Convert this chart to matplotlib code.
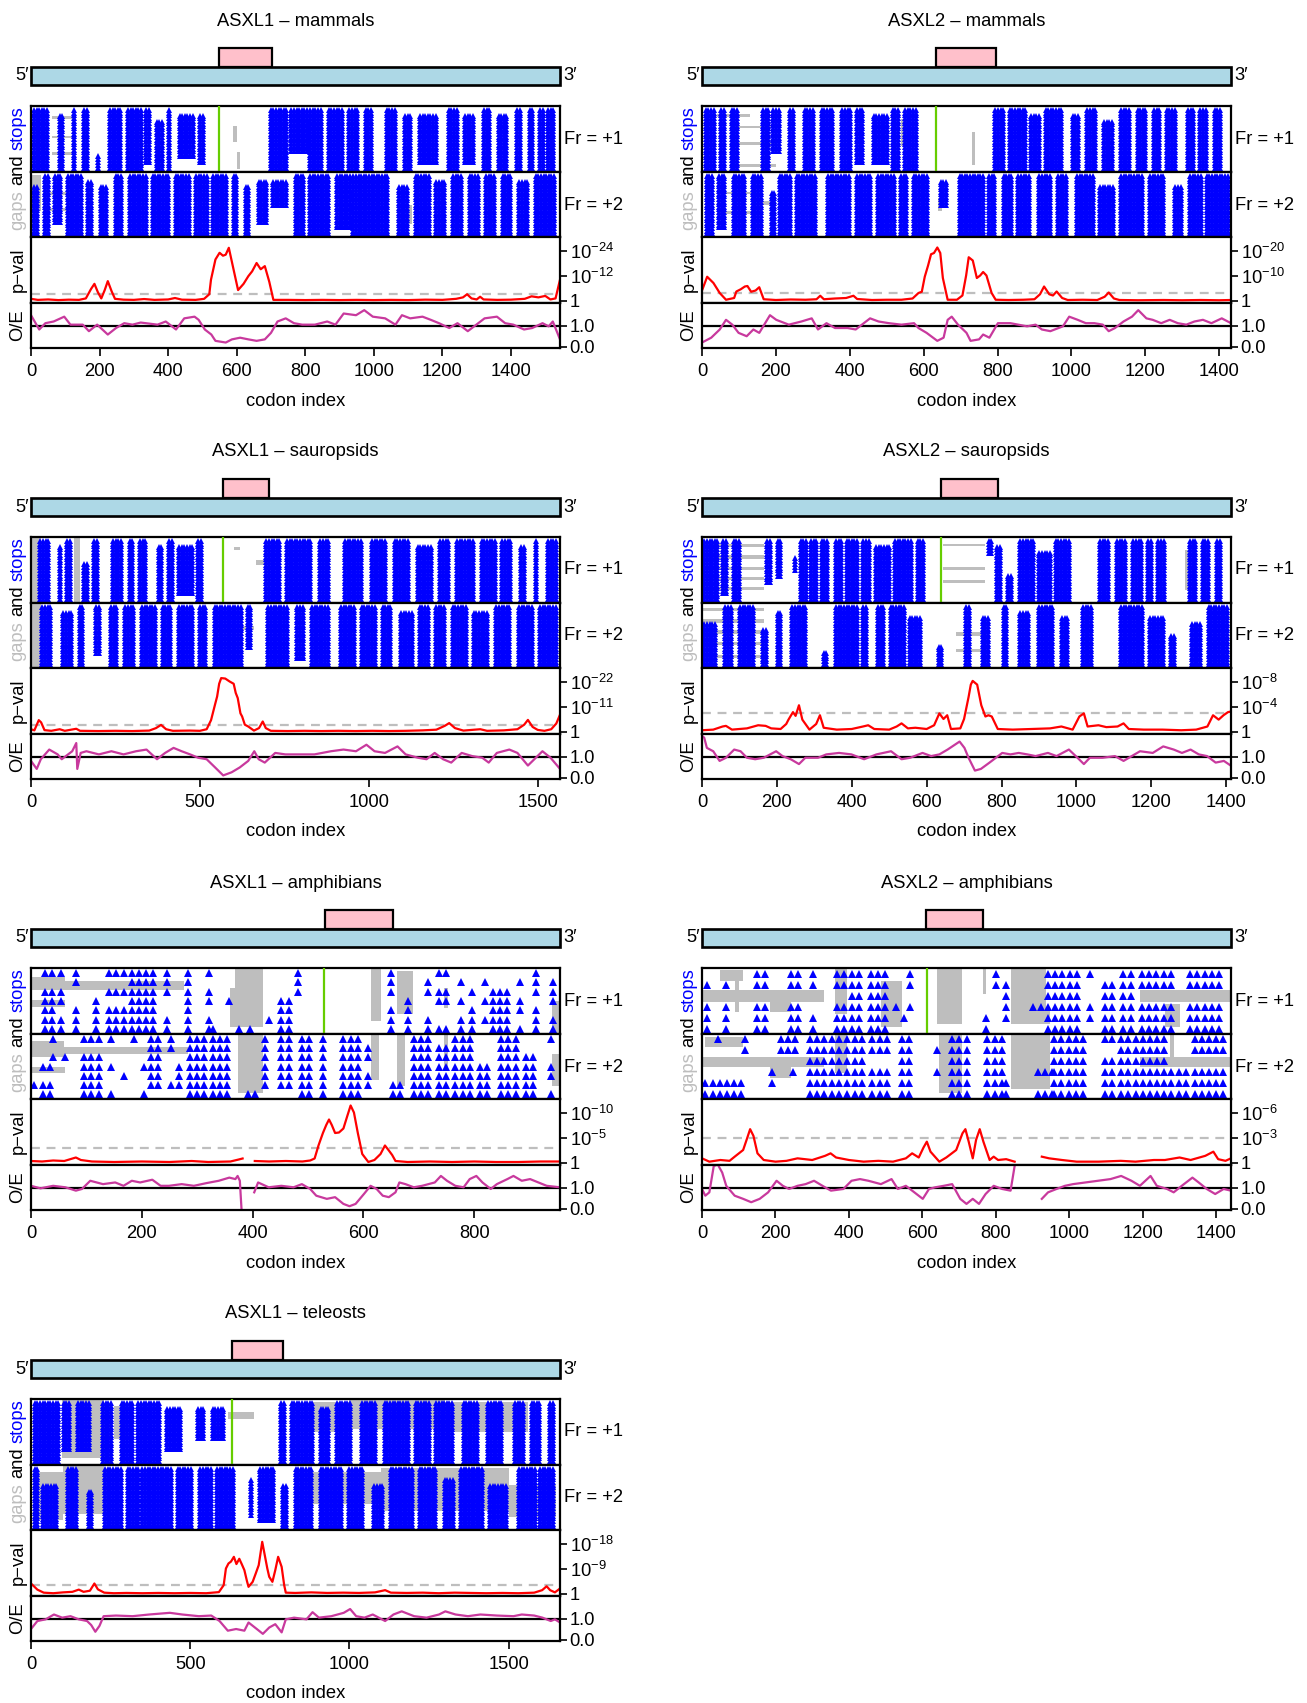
import numpy as np
import matplotlib
matplotlib.use("Agg")
import matplotlib.pyplot as plt
from matplotlib.patches import Rectangle

plt.rcParams['font.family'] = ['Liberation Sans', 'DejaVu Sans']
plt.rcParams['mathtext.fontset'] = 'custom'
plt.rcParams['mathtext.rm'] = 'Liberation Sans'
plt.rcParams['mathtext.it'] = 'Liberation Sans:italic'
plt.rcParams['mathtext.bf'] = 'Liberation Sans:bold'

nan = float('nan')

# ---------------- panel meta data ----------------
TITLES = ['ASXL1 – mammals', 'ASXL2 – mammals', 'ASXL1 – sauropsids', 'ASXL2 – sauropsids',
          'ASXL1 – amphibians', 'ASXL2 – amphibians', 'ASXL1 – teleosts']
LENGTHS = [1543, 1432, 1566, 1413, 955, 1440, 1661]
PINK_BOX = [(547, 703), (634, 796), (567, 706), (639, 791), (531, 653), (609, 766), (632, 790)]
GREEN_LINE = [547, 634, 569, 639, 529, 612, 632]
PVAL_TICK = [12, 10, 11, 4, 5, 3, 9]
X_TICK_STEP = [200, 200, 500, 200, 200, 200, 500]
PVAL_THRESHOLD = [3, 3, 3, 3, 3, 3, 3]

# ---------------- stop tracks: dense stripes (x0, x1, top frac, bottom frac) ----------------
M1_FR1 = [(4,57,0,1),(79,103,0.1,1),(117,133,0,1),(151,169,0,1),(190,199,0.8,1),(226,272,0,1),
          (278,326,0,1),(332,350,0,0.9),(362,387,0.2,1),(395,411,0,1),(429,477,0.1,0.8),(489,513,0.1,0.9),
          (695,755,0,1),(755,810,0,0.7),(810,852,0,1),(864,912,0,1),(924,960,0,1),(972,1003,0,1),
          (1033,1069,0,1),(1087,1118,0.1,1),(1130,1190,0.1,0.9),(1214,1250,0,1),(1262,1299,0.1,0.9),
          (1317,1347,0,1),(1359,1395,0.1,1),(1414,1434,0,1),(1450,1468,0,1),(1480,1498,0,1),(1504,1534,0,1)]
M1_FR2 = [(4,24,0.2,1),(36,60,0,1),(66,91,0,0.8),(103,151,0,1),(163,187,0.1,1),(199,224,0.2,1),
          (242,272,0,1),(284,344,0,1),(350,405,0,1),(417,465,0,1),(477,520,0,1),(526,574,0,1),
          (586,610,0,1),(622,646,0.2,1),(659,695,0.1,0.8),(701,755,0.1,0.5),(767,803,0,1),(810,876,0,1),
          (888,936,0,0.9),(936,1045,0,1),(1069,1106,0.2,1),(1118,1166,0,1),(1178,1214,0.1,1),
          (1226,1262,0,1),(1275,1311,0,1),(1323,1359,0,1),(1371,1408,0,1),(1420,1456,0.1,1),(1468,1534,0,1)]
M2_FR1 = [(6,42,0,1),(48,65,0,1),(76,99,0,1),(161,184,0,1),(189,212,0,0.7),(235,257,0,1),(274,308,0,1),
          (320,359,0,1),(376,410,0,1),(416,444,0,0.9),(461,506,0.1,0.9),(512,540,0,1),(546,586,0,1),
          (790,824,0,1),(829,880,0,1),(886,920,0.1,1),(926,982,0,1),(999,1028,0.1,1),(1039,1073,0,1),
          (1084,1118,0.2,1),(1130,1164,0,1),(1175,1209,0,1),(1220,1248,0,1),(1254,1288,0,1),
          (1311,1334,0,1),(1345,1373,0,1),(1384,1413,0,1)]
M2_FR2 = [(8,31,0,1),(42,70,0,0.9),(82,121,0,1),(133,167,0,1),(184,201,0.3,1),(206,246,0,1),(252,314,0,1),
          (337,404,0,1),(416,461,0,1),(472,529,0,1),(535,563,0,1),(569,614,0,1),(642,665,0.1,0.5),
          (693,767,0,1),(773,801,0,1),(812,846,0,1),(852,892,0,1),(909,948,0,1),(960,994,0,1),
          (1011,1062,0,1),(1073,1118,0.2,1),(1130,1198,0,1),(1209,1254,0,1),(1277,1305,0.2,1),
          (1317,1356,0,1),(1362,1430,0,1)]
S1_FR1 = [(23,60,0,1),(79,91,0.1,1),(103,121,0,1),(152,171,0.4,1),(183,207,0,1),(238,275,0,1),(287,306,0,1),
          (318,348,0,1),(373,391,0.1,1),(404,422,0,1),(434,483,0.1,0.9),(490,508,0,1),(692,741,0,1),
          (753,839,0,1),(852,888,0,1),(925,987,0,1),(1005,1054,0,1),(1072,1121,0,1),(1140,1195,0.1,1),
          (1207,1244,0,1),(1257,1318,0,1),(1330,1379,0,1),(1391,1428,0,1),(1447,1471,0.1,1),
          (1490,1502,0,1),(1526,1563,0,1)]
S1_FR2 = [(29,66,0,1),(91,128,0.1,1),(140,164,0,1),(189,213,0,0.8),(232,263,0,1),(275,312,0,1),(324,373,0,1),
          (385,422,0,1),(434,483,0,1),(496,526,0,1),(539,631,0,1),(637,655,0,0.7),(698,766,0,1),
          (784,815,0,0.9),(827,888,0,1),(913,962,0,1),(974,1023,0,1),(1036,1072,0,1),(1091,1134,0.1,1),
          (1146,1183,0,1),(1195,1232,0,1),(1244,1293,0,1),(1306,1355,0.1,1),(1373,1428,0,1),
          (1440,1490,0,1),(1502,1563,0,1)]
S2_FR1 = [(2,47,0,1),(53,75,0,0.9),(80,103,0,1),(170,187,0,0.7),(198,215,0,0.6),(243,254,0.3,0.5),
          (259,282,0,1),(287,310,0,1),(315,343,0,1),(354,377,0,1),(382,421,0,1),(427,455,0,1),
          (461,505,0.1,1),(511,567,0,1),(572,600,0,1),(762,779,0,0.2),(785,807,0.1,1),(813,835,0.6,1),
          (846,891,0,1),(897,936,0.2,1),(941,986,0,1),(1059,1092,0,1),(1104,1137,0,1),(1148,1182,0,1),
          (1187,1204,0,1),(1215,1238,0,1),(1299,1327,0,1),(1333,1361,0,1),(1372,1389,0,1)]
S2_FR2 = [(2,41,0.3,1),(58,86,0,1),(97,142,0,1),(159,181,0.4,1),(198,220,0.1,1),(237,287,0,1),
          (321,343,0.8,1),(354,421,0,1),(427,444,0,1),(466,489,0,1),(500,545,0,1),(550,589,0.2,1),
          (628,645,0.7,1),(701,723,0,1),(745,768,0.2,1),(802,824,0,1),(846,880,0.1,1),(897,947,0,1),
          (958,986,0.2,1),(1014,1048,0,1),(1115,1182,0,1),(1193,1238,0.2,1),(1249,1271,0.5,1),
          (1305,1338,0.3,1),(1349,1411,0,1)]
T_FR1 = [(7,91,0,1),(98,130,0,0.8),(143,189,0,0.8),(221,260,0,1),(280,325,0,1),(332,410,0,1),
         (423,475,0.1,0.8),(520,553,0.1,0.6),(566,611,0.1,0.6),(780,800,0,1),(813,891,0,1),(904,943,0.1,1),
         (956,1008,0,1),(1034,1086,0,1),(1106,1190,0,1),(1203,1255,0,1),(1268,1333,0,1),(1353,1411,0,1),
         (1431,1489,0,1),(1515,1554,0,1),(1567,1606,0,1),(1626,1652,0,1)]
T_FR2 = [(7,26,0,1),(33,91,0.3,1),(111,150,0,1),(176,202,0.4,1),(228,293,0,1),(299,345,0,1),(345,449,0,1),
         (455,514,0,1),(527,572,0,1),(579,644,0,1),(683,696,0.2,0.8),(715,767,0,0.9),(787,813,0.3,1),
         (826,891,0,1),(904,982,0,1),(995,1047,0,1),(1073,1112,0.3,1),(1125,1203,0,1),(1216,1281,0,1),
         (1294,1333,0.2,1),(1346,1424,0,1),(1437,1502,0.3,1),(1528,1593,0,1),(1593,1652,0,1)]

# ---------------- stop tracks: sparse clusters (x0, x1, rows) ----------------
A1_FR1 = [(25,40,"023456"),(55,55,"02356"),(81,81,"01456"),(118,118,"3456"),(141,167,"02456"),
          (182,227,"0123456"),(246,246,"01256"),(283,291,"0123456"),(317,324,"02356"),(328,328,"6"),
          (358,358,"3"),(375,375,"6"),(395,395,"6"),(429,429,"5"),(452,467,"3456"),(482,482,"012"),
          (650,661,"012456"),(680,691,"3456"),(714,721,"1256"),(736,751,"0236"),(777,777,"1356"),
          (796,804,"2456"),(819,819,"135"),(834,864,"23456"),(879,886,"1346"),(912,924,"012456"),
          (942,942,"12356")]
A1_FR2 = [(6,6,"5"),(21,36,"356"),(40,40,"02"),(62,62,"2"),(96,122,"023456"),(141,148,"036"),(167,167,"4"),
          (186,186,"0"),(204,204,"36"),(216,238,"012345"),(253,253,"015"),(268,279,"345"),
          (287,317,"0123456"),(328,362,"0123456"),(392,410,"6"),(422,422,"012345"),(452,467,"012345"),
          (489,512,"0123456"),(527,527,"0123456"),(564,594,"0123456"),(609,609,"1245"),(654,676,"56"),
          (691,729,"0123456"),(736,759,"123456"),(766,804,"0123456"),(811,834,"3456"),
          (849,879,"0123456"),(894,916,"23456"),(939,950,"0346")]
A2_FR1 = [(9,20,"1345"),(66,66,"1345"),(151,185,"01345"),(242,277,"01345"),(303,303,"0145"),
          (368,396,"01345"),(407,442,"012345"),(459,504,"012345"),(527,527,"3"),(550,550,"4"),
          (567,567,"013"),(772,772,"45"),(800,800,"01"),(828,828,"1234"),(902,925,"3"),
          (942,1033,"012345"),(1056,1056,"034"),(1096,1124,"12345"),(1147,1181,"012345"),
          (1198,1261,"01345"),(1278,1295,"01345"),(1329,1409,"01345")]
A2_FR2 = [(9,112,"45"),(43,43,"0"),(117,117,"01"),(191,203,"34"),(214,259,"01"),(248,248,"3"),
          (294,373,"012345"),(396,442,"012345"),(464,504,"01345"),(544,578,"012345"),(641,641,"13"),
          (681,737,"012345"),(777,817,"012345"),(828,828,"45"),(914,954,"35"),(959,1056,"012345"),
          (1096,1119,"02345"),(1141,1261,"012345"),(1278,1329,"345"),(1341,1432,"01345")]

# ---------------- gaps (x0, x1, top frac, bottom frac) ----------------
M1_GAP1 = [(60,130,0.15,0.19),(60,130,0.45,0.49),(60,130,0.7,0.74),(590,600,0.3,0.55),(600,610,0.7,0.95)]
M1_GAP2 = [(0,30,0.05,0.6),(40,110,0.3,0.35),(40,110,0.55,0.6),(1100,1110,0.5,0.8)]
M2_GAP1 = [(40,130,0.12,0.16),(90,200,0.3,0.34),(90,200,0.55,0.59),(90,200,0.88,0.92),(540,560,0.2,0.6),(730,740,0.4,0.9)]
M2_GAP2 = [(40,150,0.3,0.34),(40,150,0.6,0.64),(150,200,0.45,0.5),(640,650,0.4,0.6)]
S1_GAP1 = [(0,29,0,1),(128,146,0,1),(667,716,0.35,0.42),(600,620,0.15,0.2)]
S1_GAP2 = [(0,29,0,1),(620,660,0.35,0.42),(720,760,0.6,0.65)]
S2_GAP1 = [(2,165,0.1,0.15),(2,165,0.28,0.33),(2,165,0.45,0.5),(2,165,0.6,0.65),(2,165,0.75,0.8),
           (645,757,0.1,0.14),(645,757,0.45,0.5),(645,757,0.65,0.7),(1290,1300,0.2,0.8)]
S2_GAP2 = [(2,165,0.08,0.12),(2,165,0.25,0.3),(2,165,0.42,0.47),(2,165,0.6,0.65),(2,165,0.8,0.85),
           (679,757,0.45,0.5),(679,757,0.7,0.75)]
A1_GAP1 = [(0,62,0.13,0.33),(0,276,0.2,0.33),(0,62,0.49,0.59),(369,418,0,0.9),(360,372,0.3,0.9),
           (613,631,0,0.8),(661,690,0.05,0.7),(745,752,0.3,0.6),(940,955,0.5,1.0)]
A1_GAP2 = [(0,60,0.1,0.35),(0,283,0.2,0.3),(0,62,0.5,0.6),(373,418,0,0.9),(613,628,0,0.7),
           (661,676,0,0.8),(745,752,0,0.5),(940,955,0.3,0.8)]
A2_GAP1 = [(49,112,0.03,0.2),(0,333,0.33,0.52),(185,242,0.52,0.67),(89,100,0.2,0.67),(362,396,0,0.7),
           (487,544,0.2,0.9),(641,709,0,0.85),(766,772,0,0.4),(842,937,0,0.85),(937,948,0.6,0.85),
           (1193,1440,0.33,0.52),(1260,1300,0.55,0.9)]
A2_GAP2 = [(9,112,0.05,0.2),(0,333,0.35,0.5),(185,242,0.5,0.68),(362,396,0,0.6),(646,709,0,0.9),
           (842,948,0,0.85),(1193,1440,0.35,0.5),(1273,1285,0,0.5)]
T_GAP1 = [(98,228,0,0.9),(260,300,0.1,0.6),(430,470,0.3,0.5),(620,700,0.2,0.3),(880,1000,0.05,0.5),
          (1000,1300,0,0.45),(1300,1560,0.05,0.5)]
T_GAP2 = [(20,100,0.1,0.85),(100,230,0,0.75),(860,1100,0.1,0.6),(1100,1500,0.05,0.7),(1500,1650,0.3,0.8)]

# ---------------- p-values (-log10), (codon, value) ----------------
M1_PVAL = [(0,0.8),(20,0.3),(50,0.5),(80,0.2),(110,0.4),(140,0.3),(160,1.0),(175,5.5),(185,8.0),(195,4.0),
           (205,1.0),(215,5.0),(224,9.3),(235,4.5),(245,0.8),(270,0.4),(300,0.3),(330,0.7),(360,0.3),(400,0.5),
           (420,1.2),(440,0.4),(480,0.3),(505,0.8),(520,3),(525,10),(538,19.7),(550,22.9),(560,21.5),(568,22),
           (577,25.3),(592,14),(604,5),(620,8),(634,11.7),(645,14),(658,18),(670,15),(682,16.5),(695,9),
           (707,0.3),(750,0.3),(800,0.2),(850,0.3),(900,0.2),(950,0.3),(1000,0.2),(1050,0.3),(1100,0.2),
           (1150,0.4),(1200,0.3),(1240,0.8),(1260,1.5),(1272,3),(1285,1.0),(1300,0.5),(1310,1.8),(1320,0.5),
           (1360,0.3),(1400,0.4),(1440,0.8),(1460,2.0),(1480,1.5),(1500,2.2),(1515,0.5),(1530,1.0),(1543,10)]
M2_PVAL = [(0,4),(14,9.5),(31,7),(48,3),(65,0.3),(87,1),(93,3.6),(105,4.5),(116,5.6),(123,5.8),(133,3.5),
           (145,4),(155,5.3),(167,0.5),(200,0.2),(240,0.4),(280,0.3),(310,0.5),(320,1.9),(330,0.5),(360,0.8),
           (390,1),(410,1.9),(420,0.6),(460,0.2),(500,0.3),(540,0.3),(570,0.8),(586,3),(595,3.5),(603,9.5),
           (612,14),(620,18.5),(628,19),(637,21.2),(645,19),(652,9),(665,0.3),(690,0.3),(705,2),(715,10),
           (722,17.3),(733,16),(744,9),(753,10),(761,11.4),(770,10),(784,3),(795,0.3),(830,0.2),(870,0.3),
           (900,0.5),(915,2.5),(926,5.6),(940,2.5),(950,2.0),(960,3.6),(975,1.0),(990,0.2),(1030,0.3),
           (1070,0.2),(1090,1.5),(1101,3.2),(1115,0.8),(1130,0.2),(1180,0.1),(1250,0.2),(1300,0.1),
           (1350,0.2),(1400,0.1),(1432,0.2)]
S1_PVAL = [(0,1),(10,0.5),(23,5),(30,4),(40,0.6),(60,0.3),(85,1),(100,0.3),(134,1.2),(145,0.3),(200,0.2),
           (250,0.3),(300,0.2),(350,0.4),(370,1.5),(385,2.9),(400,1.0),(420,0.3),(470,0.4),(500,0.3),(520,1),
           (533,5),(545,12),(551,15.4),(557,21),(563,23.5),(575,23.3),(588,22),(600,21),(606,17),(612,14.7),
           (620,8),(625,6.6),(633,3),(643,2.2),(660,0.4),(675,1.5),(686,4.4),(695,1.5),(710,0.3),(760,0.2),
           (810,0.3),(860,0.2),(910,0.3),(960,0.2),(1010,0.3),(1060,0.2),(1110,0.3),(1160,0.5),(1200,0.8),
           (1225,2.5),(1238,3.7),(1255,1.5),(1280,0.4),(1330,1.0),(1350,0.3),(1400,0.5),(1440,1.0),
           (1460,3.0),(1471,5.1),(1485,2.0),(1500,0.7),(1520,0.3),(1540,1.0),(1555,3.5),(1566,7.4)]
S2_PVAL = [(0,0.2),(30,0.3),(55,0.8),(64,0.9),(80,0.3),(120,0.5),(150,1.0),(170,0.9),(185,0.5),(210,0.4),
           (225,1.2),(231,1.9),(243,3.1),(250,2.5),(259,4.2),(268,1.9),(287,0.3),(305,1.2),(315,2.6),
           (325,0.6),(360,0.3),(400,0.4),(430,0.8),(444,1.0),(460,0.4),(500,0.3),(520,0.8),(533,1.3),
           (550,0.5),(570,0.6),(600,0.4),(620,1.0),(634,2.9),(645,2.0),(655,2.6),(665,0.4),(690,0.5),
           (700,2),(712,5.5),(718,7.5),(723,8.1),(735,7.5),(746,4.2),(757,2.4),(765,2.6),(774,2.4),
           (790,0.4),(830,0.3),(880,0.4),(930,0.5),(960,0.8),(990,0.3),(1008,2.4),(1020,2.9),(1030,0.8),
           (1059,1.0),(1080,0.7),(1110,0.8),(1126,1.3),(1140,0.4),(1180,0.3),(1230,0.3),(1280,0.2),
           (1320,0.3),(1350,0.8),(1365,2.6),(1380,1.9),(1393,2.6),(1405,3.1),(1413,3.2)]
A1_PVAL = [(0,0.3),(20,0.2),(40,0.4),(60,0.3),(75,0.8),(81,1.0),(90,0.5),(110,0.2),(150,0.1),(200,0.2),
           (250,0.1),(290,0.3),(320,0.1),(360,0.2),(375,0.6),(382,0.8),(384,nan),(404,0.3),(430,0.2),
           (460,0.3),(490,0.2),(504,0.4),(512,0.8),(519,3.4),(527,5.9),(533,7.5),(538,8.6),(543,7.5),
           (549,5.9),(556,6.0),(564,6.8),(571,9.3),(577,11.4),(583,10),(590,5.9),(598,1.7),(609,0.1),
           (620,0.5),(631,1.7),(639,3.4),(646,2.4),(652,1.5),(658,0.3),(680,0.1),(720,0.2),(760,0.1),
           (800,0.2),(840,0.1),(880,0.1),(920,0.2),(955,0.2)]
A2_PVAL = [(0,0.5),(20,0.1),(50,0.3),(75,0.2),(89,0.7),(112,1.5),(122,2.8),(131,4.0),(140,3.2),(151,1.1),
           (168,0.3),(200,0.1),(230,0.2),(260,0.5),(300,0.3),(335,0.8),(350,1.1),(365,0.6),(400,0.3),
           (440,0.1),(480,0.2),(520,0.1),(555,0.5),(572,1.1),(590,0.6),(603,1.8),(612,2.5),(622,1.3),
           (646,0.1),(665,0.6),(680,1.1),(692,1.5),(709,3.5),(717,4.0),(726,2.5),(737,0.5),(746,2.7),
           (756,4.0),(766,2.5),(783,0.3),(794,0.7),(806,0.3),(828,0.4),(851,0.1),(855,nan),(925,0.7),
           (945,0.5),(980,0.3),(1020,0.1),(1080,0.1),(1140,0.2),(1180,0.1),(1230,0.3),(1260,0.3),
           (1300,0.6),(1330,0.3),(1370,0.8),(1392,1.3),(1405,0.4),(1425,0.2),(1440,0.5)]
T_PVAL = [(0,3.6),(10,2.5),(20,1.4),(40,0.3),(70,0.1),(100,0.4),(130,0.6),(150,1.4),(165,0.6),(185,1.0),
          (199,3.6),(210,1.5),(230,0.3),(260,0.1),(300,0.2),(350,0.1),(400,0.2),(450,0.1),(500,0.2),
          (550,0.1),(590,0.5),(605,3),(612,9),(620,10.8),(628,11.5),(637,13.2),(645,10.6),(654,12.5),
          (662,10.5),(670,8.4),(678,4.5),(683,2.4),(696,4.2),(705,7),(715,10.2),(720,14),(726,18.6),
          (735,13.2),(742,9),(748,6),(758,4.2),(767,8.4),(776,13.2),(787,9.6),(795,3),(800,0.3),(830,0.2),
          (880,0.4),(930,0.2),(980,0.3),(1030,0.2),(1080,0.4),(1112,1.2),(1130,0.3),(1180,0.2),(1230,0.3),
          (1280,0.1),(1330,0.3),(1380,0.2),(1430,0.1),(1480,0.2),(1530,0.1),(1580,0.3),(1605,1.2),
          (1619,2.6),(1630,1.2),(1645,0.4),(1661,1.8)]

# ---------------- observed / expected, (codon, value) ----------------
M1_OE = [(0,1.5),(24,0.82),(42,1.12),(66,1.2),(97,1.43),(115,1.05),(151,1.05),(169,0.74),(193,1.05),(224,0.58),
         (248,0.89),(272,1.12),(296,1.05),(320,1.15),(369,1.05),(393,1.2),(423,0.82),(447,1.35),(477,1.43),
         (489,1.28),(507,0.82),(526,0.58),(538,0.28),(568,0.2),(586,0.35),(610,0.43),(634,0.35),(658,0.28),
         (682,0.35),(700,0.66),(719,1.2),(743,1.35),(767,1.12),(791,1.05),(828,1.05),(864,1.2),(888,1.05),
         (912,1.58),(948,1.5),(972,1.74),(997,1.43),(1033,1.35),(1063,1.05),(1082,1.5),(1106,1.35),
         (1142,1.43),(1166,1.28),(1190,1.12),(1220,0.89),(1244,1.12),(1274,0.74),(1299,1.05),(1323,1.35),
         (1359,1.43),(1383,1.12),(1407,1.05),(1438,0.82),(1462,0.89),(1492,1.12),(1510,0.97),(1522,1.2),
         (1543,0.35)]
M2_OE = [(0,0.2),(25,0.43),(48,0.82),(65,1.28),(82,1.05),(99,0.66),(121,0.5),(139,0.82),(155,0.66),(184,1.5),
         (201,1.28),(235,1.05),(269,1.2),(297,1.35),(314,0.82),(337,1.12),(360,0.89),(394,0.89),(416,0.82),
         (455,1.35),(478,1.2),(506,1.12),(540,1.05),(574,1.12),(586,0.89),(608,0.66),(637,0.28),(654,0.43),
         (665,1.28),(676,1.43),(693,1.05),(716,0.66),(727,0.28),(750,0.35),(761,0.58),(778,0.43),(801,1.12),
         (835,1.12),(880,0.97),(903,1.05),(920,0.82),(943,0.74),(977,0.97),(994,1.43),(1017,1.28),
         (1039,1.12),(1062,1.12),(1085,1.05),(1101,0.74),(1118,0.89),(1141,1.2),(1164,1.43),(1181,1.74),
         (1203,1.35),(1220,1.28),(1243,1.12),(1266,1.28),(1288,1.12),(1311,1.05),(1333,1.2),(1356,1.28),
         (1379,1.12),(1407,1.35),(1432,1.12)]
S1_OE = [(0,0.8),(17,0.42),(29,0.88),(54,1.34),(79,1.11),(91,0.88),(122,1.26),(134,1.65),(137,0.42),(147,1.18),
         (164,1.26),(201,1.11),(238,1.26),(274,1.11),(311,1.26),(342,1.34),(373,0.88),(397,1.18),(422,1.42),
         (446,1.26),(471,1.11),(495,0.95),(520,0.88),(545,0.49),(569,0.11),(594,0.26),(618,0.49),(643,0.8),
         (661,1.26),(674,0.88),(692,0.72),(723,1.18),(753,1.11),(790,1.11),(839,1.11),(888,1.26),(925,1.34),
         (962,1.26),(993,1.57),(1017,1.26),(1048,1.18),(1085,1.49),(1109,1.11),(1146,0.95),(1171,0.88),
         (1195,1.18),(1220,0.88),(1244,0.72),(1275,1.18),(1306,1.03),(1336,0.95),(1355,0.72),(1379,1.18),
         (1416,1.34),(1440,1.18),(1471,0.58),(1490,0.88),(1514,1.26),(1538,0.95),(1566,0.42)]
S2_OE = [(0,2.0),(6,1.9),(13,1.42),(30,1.26),(47,0.8),(64,0.95),(86,1.34),(103,1.26),(120,0.95),(142,0.88),
         (165,0.95),(198,1.26),(215,1.03),(237,0.88),(259,0.65),(276,0.95),(310,0.95),(332,1.11),(366,1.18),
         (399,1.11),(433,0.88),(466,1.11),(505,1.26),(533,0.88),(556,0.95),(589,1.18),(612,1.03),(634,1.11),
         (656,1.34),(688,1.72),(701,1.42),(712,0.95),(729,0.34),(745,0.42),(768,0.72),(785,0.95),(802,1.18),
         (824,1.11),(846,1.18),(869,1.11),(891,1.03),(924,1.18),(947,1.03),(980,1.34),(1003,0.95),
         (1020,0.65),(1036,0.95),(1070,0.95),(1103,1.03),(1126,0.8),(1148,1.03),(1170,1.26),(1204,1.18),
         (1232,1.49),(1260,1.34),(1282,1.18),(1305,1.34),(1327,1.11),(1349,1.03),(1372,0.72),(1394,0.8),
         (1413,0.57)]
A1_OE = [(0,1.09),(17,0.97),(40,1.09),(62,1.02),(81,0.86),(92,0.94),(107,1.33),(130,1.17),(152,1.25),
         (167,1.09),(182,1.33),(197,1.25),(219,1.38),(234,1.09),(249,1.09),(272,1.17),(294,1.09),(317,1.22),
         (339,1.33),(358,1.48),(369,1.41),(373,1.56),(377,1.33),(380,0.0),(382,-0.2),(384,nan),(403,0.78),
         (410,1.25),(429,1.02),(452,1.09),(474,1.02),(489,1.17),(504,0.94),(515,0.62),(534,0.47),(549,0.55),
         (564,0.23),(575,0.12),(586,0.23),(601,0.7),(613,1.09),(624,0.94),(635,0.62),(646,0.55),(658,0.78),
         (665,1.25),(676,1.17),(691,1.02),(706,1.09),(729,1.25),(740,1.56),(751,1.33),(766,1.09),(781,1.02),
         (792,1.41),(804,1.56),(815,1.25),(830,0.94),(841,1.17),(860,1.41),(871,1.56),(886,1.33),(901,1.41),
         (916,1.25),(931,1.09),(955,1.02)]
A2_OE = [(0,0.94),(9,0.62),(20,0.78),(32,2.03),(43,2.1),(55,1.72),(66,1.09),(89,0.62),(112,0.47),(134,0.31),
         (157,0.47),(180,0.78),(203,1.33),(220,1.09),(237,0.94),(260,1.09),(282,1.17),(305,1.33),(328,1.09),
         (351,0.86),(385,0.94),(407,1.33),(430,1.41),(453,1.33),(487,1.17),(516,1.41),(533,0.94),(555,1.09),
         (578,0.78),(601,0.47),(618,0.94),(635,1.02),(658,1.09),(681,1.17),(703,0.47),(720,0.23),(737,0.47),
         (754,0.23),(772,0.7),(794,1.09),(817,0.94),(840,0.86),(851,2.03),(855,2.2),(856,nan),(925,0.47),
         (942,0.78),(965,0.94),(988,1.09),(1010,1.17),(1044,1.25),(1078,1.33),(1112,1.41),(1141,1.56),
         (1169,1.33),(1192,1.09),(1221,1.56),(1238,1.09),(1266,0.94),(1284,0.78),(1306,1.09),(1335,1.48),
         (1352,1.25),(1374,0.94),(1397,0.7),(1420,0.94),(1440,0.86)]
T_OE = [(0,0.51),(20,0.89),(46,0.97),(72,1.2),(98,1.05),(124,1.12),(150,0.97),(176,0.89),(189,0.7),(202,0.38),
        (215,0.66),(228,1.12),(267,1.15),(319,1.12),(371,1.2),(436,1.28),(475,1.2),(527,1.12),(566,1.15),
        (592,0.89),(618,0.43),(644,0.51),(670,0.43),(683,0.82),(709,0.51),(728,0.28),(748,0.58),(767,0.74),
        (787,0.35),(800,0.97),(826,1.05),(865,0.97),(884,1.31),(904,1.05),(943,1.12),(982,1.28),(1002,1.46),
        (1021,1.12),(1047,1.05),(1073,1.2),(1112,0.89),(1138,1.2),(1164,1.35),(1203,1.12),(1242,1.05),
        (1281,1.2),(1301,1.35),(1333,1.2),(1372,1.12),(1411,1.2),(1463,1.15),(1515,1.12),(1541,1.2),
        (1580,1.15),(1606,1.05),(1632,0.89),(1645,0.97),(1661,0.82)]

FR1_DATA = [M1_FR1, M2_FR1, S1_FR1, S2_FR1, A1_FR1, A2_FR1, T_FR1]
FR2_DATA = [M1_FR2, M2_FR2, S1_FR2, S2_FR2, A1_FR2, A2_FR2, T_FR2]
GAP1_DATA = [M1_GAP1, M2_GAP1, S1_GAP1, S2_GAP1, A1_GAP1, A2_GAP1, T_GAP1]
GAP2_DATA = [M1_GAP2, M2_GAP2, S1_GAP2, S2_GAP2, A1_GAP2, A2_GAP2, T_GAP2]
PVAL_DATA = [M1_PVAL, M2_PVAL, S1_PVAL, S2_PVAL, A1_PVAL, A2_PVAL, T_PVAL]
OE_DATA = [M1_OE, M2_OE, S1_OE, S2_OE, A1_OE, A2_OE, T_OE]
SPARSE_ROWS = [None, None, None, None, 7, 6, None]

# ---------------- styling ----------------
W, H = 1307, 1703
FS = 13.2
BLUE = '#0000ff'
GREY = '#bebebe'
LW = 1.6
fig = plt.figure(figsize=(W / 100, H / 100), dpi=100)
fig.patch.set_facecolor('white')


def add_ax(x0, y0, x1, y1):
    return fig.add_axes([x0 / W, 1 - y1 / H, (x1 - x0) / W, (y1 - y0) / H])


def frame(ax):
    for s in ax.spines.values():
        s.set_linewidth(LW)
        s.set_color('black')


def draw_gaps(ax, gaps):
    for x0, x1, f0, f1 in gaps:
        ax.add_patch(Rectangle((x0, 1 - f1), x1 - x0, f1 - f0, facecolor=GREY, edgecolor='none', zorder=1))


def draw_dense(ax, stripes, L):
    pxpc = 529.0 / L
    dx = 2.6 / pxpc
    half = 1.6 / pxpc  # partial inset for marker width, in codons
    X, Y = [], []
    for x0, x1, f0, f1 in stripes:
        a, b = x0 + half, x1 - half
        if b - a < dx:
            xs = np.array([(x0 + x1) / 2.0])
        else:
            xs = np.arange(a, b + 1e-9, dx)
        nr = max(1, int(round((f1 - f0) / 0.045)) + 1)
        fr = np.linspace(f0, f1, nr)
        ys = 0.94 - fr * 0.88
        gx, gy = np.meshgrid(xs, ys)
        X.append(gx.ravel())
        Y.append(gy.ravel())
    ax.plot(np.concatenate(X), np.concatenate(Y), ls='none', marker='^', ms=4.4, mew=0, color=BLUE, zorder=2)


def draw_sparse(ax, clusters, L, nrows):
    pxpc = 529.0 / L
    dx = 7.2 / pxpc
    X, Y = [], []
    for x0, x1, rows in clusters:
        if x1 - x0 < dx * 0.6:
            xs = np.array([(x0 + x1) / 2.0])
        else:
            xs = np.arange(x0, x1 + 1e-9, dx)
        for r in rows:
            y = 1 - (int(r) + 0.5) / nrows
            X.extend(xs)
            Y.extend([y] * len(xs))
    ax.plot(X, Y, ls='none', marker='^', ms=5.2, mew=0, color=BLUE, zorder=2)


def stacked_vertical_label(x_px, yc_px, words, colors):
    r = fig.canvas.get_renderer()
    widths = []
    for w in words + [' ']:
        t = fig.text(0, 0, w, fontsize=FS)
        widths.append(t.get_window_extent(renderer=r).width)
        t.remove()
    sp = widths[-1]
    widths = widths[:-1]
    total = sum(widths) + sp * (len(words) - 1)
    y = H - yc_px - total / 2.0
    for w, c, wd in zip(words, colors, widths):
        fig.text(x_px / W, (y + wd / 2.0) / H, w, rotation=90, ha='center', va='center',
                 fontsize=FS, color=c)
        y += wd + sp


for i in range(7):
    col = i % 2
    row = i // 2
    ox = 0 if col == 0 else 671
    oy = row * 431
    X0, X1 = 31 + ox, 560 + ox
    L = LENGTHS[i]

    fig.text((X0 + X1) / 2 / W, 1 - (oy + 21) / H, TITLES[i], ha='center', va='center', fontsize=FS)

    # gene cartoon
    g = add_ax(X0, oy + 46, X1, oy + 87)
    g.set_xlim(0, L)
    g.set_ylim(87, 46)
    g.axis('off')
    p0, p1 = PINK_BOX[i]
    g.add_patch(Rectangle((p0, 48.3), p1 - p0, 18.4, facecolor='#ffc0cb', edgecolor='black', lw=LW, clip_on=False))
    g.add_patch(Rectangle((0, 66.7), L, 18.3, facecolor='#add8e6', edgecolor='black', lw=LW * 1.2, clip_on=False))
    fig.text((ox + 29) / W, 1 - (oy + 76) / H, '5′', ha='right', va='center', fontsize=FS)
    fig.text((ox + 563) / W, 1 - (oy + 76) / H, '3′', ha='left', va='center', fontsize=FS)

    # stop / gap tracks
    t1 = add_ax(X0, oy + 106, X1, oy + 172)
    t2 = add_ax(X0, oy + 172, X1, oy + 237)
    for ax, stops, gaps in ((t1, FR1_DATA[i], GAP1_DATA[i]), (t2, FR2_DATA[i], GAP2_DATA[i])):
        ax.set_xlim(0, L)
        ax.set_ylim(0, 1)
        ax.set_xticks([])
        ax.set_yticks([])
        frame(ax)
        draw_gaps(ax, gaps)
        if SPARSE_ROWS[i]:
            draw_sparse(ax, stops, L, SPARSE_ROWS[i])
        else:
            draw_dense(ax, stops, L)
    t1.axvline(GREEN_LINE[i], color='#66cd00', lw=1.6, zorder=3)
    fig.text((ox + 564) / W, 1 - (oy + 139) / H, 'Fr = +1', ha='left', va='center', fontsize=FS)
    fig.text((ox + 564) / W, 1 - (oy + 205) / H, 'Fr = +2', ha='left', va='center', fontsize=FS)
    stacked_vertical_label(ox + 18, oy + 168, ['gaps', 'and', 'stops'], [GREY, 'black', BLUE])

    # p-value track
    pa = add_ax(X0, oy + 237, X1, oy + 303)
    T = PVAL_TICK[i]
    pa.set_xlim(0, L)
    pa.set_ylim(-0.05 * 2 * T, 1.27 * 2 * T)
    pa.set_xticks([])
    pa.yaxis.tick_right()
    pa.set_yticks([0, T, 2 * T])
    pa.set_yticklabels(['1', r'$10^{-%d}$' % T, r'$10^{-%d}$' % (2 * T)])
    pa.tick_params(axis='y', direction='out', length=5, width=1.2, labelsize=FS, pad=2)
    frame(pa)
    pa.axhline(PVAL_THRESHOLD[i], color=GREY, ls=(0, (4, 3)), lw=1.6, zorder=1)
    px = np.array([p[0] for p in PVAL_DATA[i]], float)
    py = np.array([p[1] for p in PVAL_DATA[i]], float)
    pa.plot(px, py, color='#ff0000', lw=1.6, zorder=2)
    fig.text((ox + 18) / W, 1 - (oy + 270) / H, 'p−val', rotation=90, ha='center', va='center', fontsize=FS)

    # O/E track
    oa = add_ax(X0, oy + 303, X1, oy + 348)
    oa.set_xlim(0, L)
    oa.set_ylim(-0.06, 2.08)
    oa.yaxis.tick_right()
    oa.set_yticks([0, 1])
    oa.set_yticklabels(['0.0', '1.0'])
    oa.tick_params(axis='y', direction='out', length=5, width=1.2, labelsize=FS, pad=2)
    oa.set_xticks(np.arange(0, L + 1, X_TICK_STEP[i]))
    oa.tick_params(axis='x', direction='out', length=6, width=1.2, labelsize=FS, pad=5)
    frame(oa)
    oa.axhline(1.0, color='black', lw=1.6, zorder=1)
    ex = np.array([p[0] for p in OE_DATA[i]], float)
    ey = np.array([p[1] for p in OE_DATA[i]], float)
    oa.plot(ex, ey, color='#c8399d', lw=1.6, zorder=2)
    fig.text((ox + 18) / W, 1 - (oy + 325) / H, 'O/E', rotation=90, ha='center', va='center', fontsize=FS)
    fig.text((X0 + X1) / 2 / W, 1 - (oy + 401) / H, 'codon index', ha='center', va='center', fontsize=FS)

fig.savefig('out.png', dpi=100, facecolor='white')
